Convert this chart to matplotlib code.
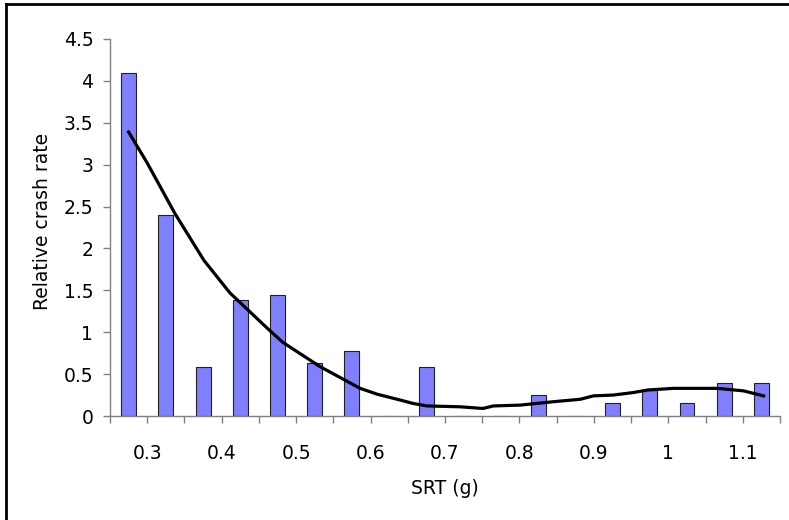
import numpy as np
import matplotlib.pyplot as plt
from matplotlib.lines import Line2D

plt.rcParams['font.family'] = ['DejaVu Sans']

# SRT bins (centres, g) and relative crash rate per bin
srt_bins = [0.275, 0.325, 0.375, 0.425, 0.475, 0.525, 0.575, 0.625, 0.675,
            0.725, 0.775, 0.825, 0.875, 0.925, 0.975, 1.025, 1.075, 1.125]
crash_rate = [4.10, 2.40, 0.59, 1.39, 1.45, 0.63, 0.77, 0.0, 0.59,
              0.0, 0.0, 0.25, 0.0, 0.15, 0.31, 0.15, 0.39, 0.39]

# smoothed trend line
trend_x = [0.275, 0.300, 0.337, 0.376, 0.411, 0.461, 0.482, 0.532, 0.586,
           0.609, 0.640, 0.657, 0.676, 0.720, 0.751, 0.765, 0.801, 0.845,
           0.882, 0.899, 0.926, 0.953, 0.972, 1.007, 1.066, 1.101, 1.128]
trend_y = [3.39, 3.02, 2.42, 1.86, 1.47, 1.05, 0.88, 0.59, 0.33,
           0.26, 0.19, 0.15, 0.12, 0.11, 0.09, 0.12, 0.13, 0.17,
           0.20, 0.24, 0.25, 0.28, 0.31, 0.33, 0.33, 0.30, 0.24]

x_ticks = np.round(np.arange(0.25, 1.1501, 0.05), 2)
x_labels = [f"{t:g}" if abs(t * 10 - round(t * 10)) < 1e-6 else "" for t in x_ticks]
y_ticks = np.arange(0, 4.51, 0.5)

fig = plt.figure(figsize=(7.89, 5.2), dpi=100)
ax = fig.add_axes([110 / 789, 1 - 416 / 520, 670 / 789, 377 / 520])

ax.bar(srt_bins, crash_rate, width=0.02, color="#8080ff",
       edgecolor="#202020", linewidth=0.8, zorder=2)
ax.plot(trend_x, trend_y, color="black", linewidth=2.3, zorder=3)

ax.set_xlim(0.25, 1.15)
ax.set_ylim(0, 4.5)
ax.set_xticks(x_ticks)
ax.set_xticklabels(x_labels)
ax.set_yticks(y_ticks)
ax.set_yticklabels([f"{v:g}" for v in y_ticks])

for side in ["top", "right"]:
    ax.spines[side].set_visible(False)
for side in ["left", "bottom"]:
    ax.spines[side].set_color("#808080")
    ax.spines[side].set_linewidth(1.0)
ax.tick_params(axis="both", colors="#808080", labelcolor="black",
               labelsize=13.5, length=5, width=1.0, direction="out")
ax.tick_params(axis="x", pad=15)
ax.tick_params(axis="y", pad=7)

ax.set_xlabel("SRT (g)", fontsize=13.5, labelpad=12)
ax.set_ylabel("Relative crash rate", fontsize=13.5)
ax.yaxis.set_label_coords(-0.087, 0.517)

# chart-area border (only left and top edges visible)
fig.add_artist(Line2D([6 / 789, 6 / 789], [0, 1 - 4 / 520], color="black", linewidth=2))
fig.add_artist(Line2D([6 / 789, 1], [1 - 4 / 520, 1 - 4 / 520], color="black", linewidth=2))

fig.savefig("out.png", dpi=100)
